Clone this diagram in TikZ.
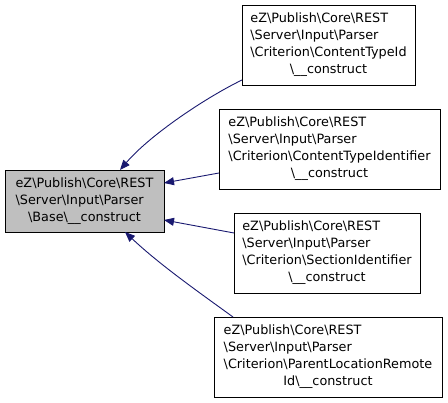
\documentclass[tikz,border=0pt]{standalone}
\usepackage{fontspec}
\setmainfont{DejaVu Sans}
\usetikzlibrary{arrows.meta}
\definecolor{edgeblue}{RGB}{25,25,112}
\newcommand{\bs}{\textbackslash}
\newcommand{\lastline}[1]{\multicolumn{1}{@{}c@{}}{#1}}
\tikzset{
  box/.style={draw=black, line width=0.9pt, fill=white, inner sep=0pt, outer sep=0pt,
    font=\fontsize{12.8}{17}\selectfont},
  mainbox/.style={box, fill=black!25},
  edge/.style={draw=edgeblue, line width=0.9pt, -{Triangle[length=10pt,width=8pt]}}
}
\begin{document}
\begin{tikzpicture}[x=1pt,y=-1pt]
\useasboundingbox (0,0) rectangle (448,403);
\node[mainbox, minimum width=159pt, minimum height=62pt] (main) at (84.5,201)
  {\begin{tabular}{@{}l@{}}eZ\bs Publish\bs Core\bs REST\\ \bs Server\bs Input\bs Parser\\ \lastline{\bs Base\bs \_\_construct}\end{tabular}};
\node[box, minimum width=173pt, minimum height=80pt] (b1) at (328.5,45)
  {\begin{tabular}{@{}l@{}}eZ\bs Publish\bs Core\bs REST\\ \bs Server\bs Input\bs Parser\\ \bs Criterion\bs ContentTypeId\\ \lastline{\bs \_\_construct}\end{tabular}};
\node[box, minimum width=221pt, minimum height=80pt] (b2) at (329.5,149)
  {\begin{tabular}{@{}l@{}}eZ\bs Publish\bs Core\bs REST\\ \bs Server\bs Input\bs Parser\\ \bs Criterion\bs ContentTypeIdentifier\\ \lastline{\bs \_\_construct}\end{tabular}};
\node[box, minimum width=186pt, minimum height=80pt] (b3) at (327,253)
  {\begin{tabular}{@{}l@{}}eZ\bs Publish\bs Core\bs REST\\ \bs Server\bs Input\bs Parser\\ \bs Criterion\bs SectionIdentifier\\ \lastline{\bs \_\_construct}\end{tabular}};
\node[box, minimum width=228pt, minimum height=80pt] (b4) at (328,357)
  {\begin{tabular}{@{}l@{}}eZ\bs Publish\bs Core\bs REST\\ \bs Server\bs Input\bs Parser\\ \bs Criterion\bs ParentLocationRemote\\ \lastline{Id\bs \_\_construct}\end{tabular}};
\draw[edge] ([yshift=-35pt]b1.west) .. controls (205,98) and (150,135) .. ([xshift=35.5pt]main.north);
\draw[edge] ([yshift=-24pt]b2.west) -- ([yshift=18pt]main.east);
\draw[edge] ([yshift=20pt]b3.west) -- ([yshift=-19pt]main.east);
\draw[edge] ([xshift=19pt]b4.north west) .. controls (200,293) and (160,265) .. ([xshift=40.5pt]main.south);
\end{tikzpicture}
\end{document}
